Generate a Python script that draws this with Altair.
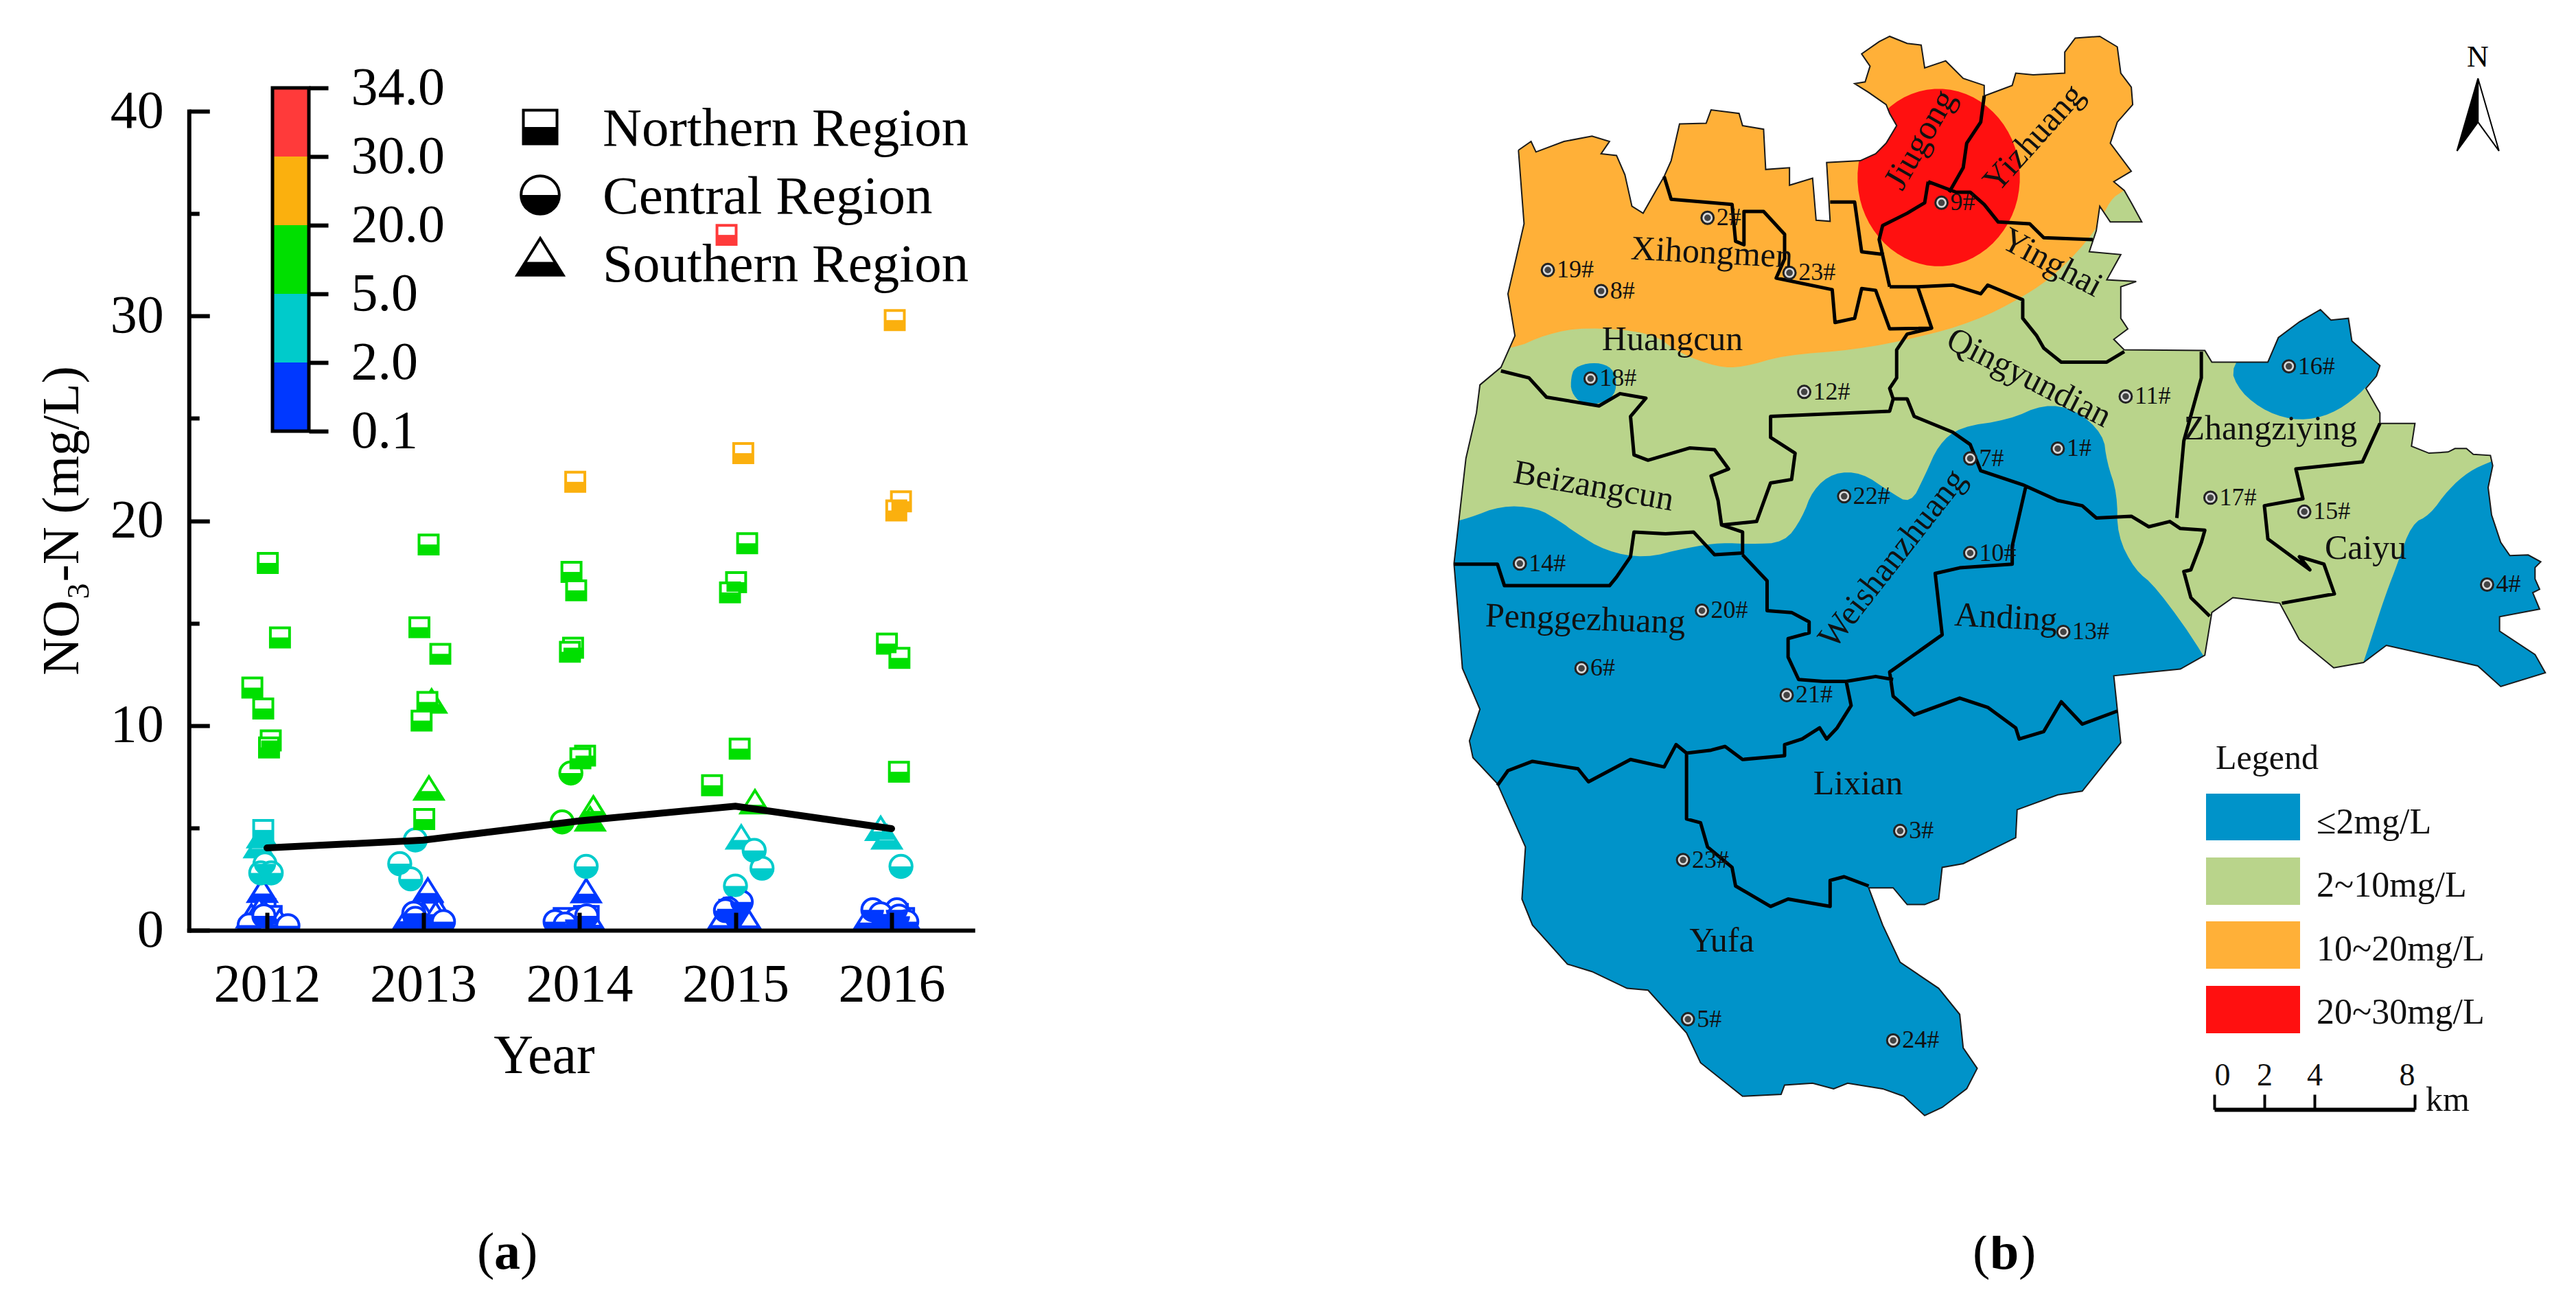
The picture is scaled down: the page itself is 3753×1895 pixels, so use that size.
import altair as alt
import pandas as pd

FONT = "Liberation Serif"
W, H = 3737, 1879

# ---------- panel (a) values: year + horizontal jitter, NO3-N (mg/L) ----------
sq_x = [2011.906, 2011.976, 2012.024, 2012.013, 2011.976, 2012.005, 2012.083, 2011.99, 2012.03,
        2013.035, 2012.976, 2013.11, 2013.027, 2012.99, 2013.007, 2013.0, 2012.97, 2013.06,
        2013.974, 2013.95, 2013.98, 2013.96, 2013.94, 2014.037, 2014.007, 2014.0, 2013.9, 2014.03, 2014.06,
        2014.943, 2015.05, 2015.075, 2015.004, 2014.965, 2015.027, 2014.85, 2015.0, 2014.96, 2014.99, 2015.02,
        2016.02, 2016.06, 2016.03, 2015.97, 2016.05, 2016.047, 2016.0, 2015.92, 2015.97, 2016.04, 2016.08]
sq_y = [11.85, 10.83, 9.27, 8.93, 4.9, 17.94, 14.3, 1.03, 0.7,
        18.84, 14.8, 13.5, 11.15, 10.24, 5.43, 0.55, 0.8, 0.9,
        21.9, 17.5, 16.6, 13.8, 13.6, 8.53, 8.4, 0.5, 0.6, 0.7, 0.7,
        33.96, 23.3, 18.9, 17.0, 16.5, 8.87, 7.08, 0.6, 1.0, 1.1, 1.0,
        29.8, 20.95, 20.5, 14.0, 13.3, 7.74, 0.6, 0.7, 0.8, 0.8, 0.6]
ci_x = [2011.987, 2011.96, 2012.027, 2011.886, 2012.134, 2011.98,
        2012.95, 2012.85, 2012.92, 2012.94, 2012.95, 2013.13,
        2013.946, 2013.89, 2014.044, 2013.845, 2013.98, 2014.047, 2013.91,
        2015.12, 2015.17, 2015.0, 2015.037, 2014.953, 2014.936,
        2016.06, 2015.88, 2016.034, 2015.93, 2016.047, 2016.097]
ci_y = [3.24, 2.8, 2.8, 0.25, 0.22, 0.7,
        4.41, 3.25, 2.51, 0.83, 0.58, 0.42,
        7.68, 5.29, 3.12, 0.42, 0.53, 0.7, 0.3,
        3.9, 3.03, 2.16, 1.38, 1.05, 0.96,
        3.12, 1.0, 1.0, 0.8, 0.69, 0.42]
tr_x = [2011.95, 2011.97, 2011.97, 2011.9, 2012.08, 2011.95, 2011.98,
        2013.054, 2013.037, 2013.03, 2013.1, 2012.9, 2013.0, 2013.08,
        2014.09, 2014.07, 2014.044, 2014.08,
        2015.125, 2015.037, 2015.087, 2014.9,
        2015.93, 2015.97, 2015.845, 2016.1]
tr_y = [4.13, 4.62, 1.95, 0.7, 0.44, 1.0, 0.9,
        11.2, 6.95, 1.97, 0.94, 0.6, 0.8, 0.8,
        5.98, 5.44, 1.94, 0.42,
        6.28, 4.56, 0.39, 0.4,
        4.98, 4.56, 0.53, 0.42]
mean_x = [2012, 2013, 2014, 2015, 2016]
mean_y = [4.02, 4.4, 5.34, 6.06, 4.96]

cb_labels = ["0.1", "2.0", "5.0", "20.0", "30.0", "34.0"]
cb_colors = ["#0038FF", "#00CBCB", "#00DF00", "#FBB00E", "#FF3A3A"]
cb_breaks = [2, 5, 20, 30]
region_names = ["Northern Region", "Central Region", "Southern Region"]

# ---------- panel (b) traces, in the units of three detail views of the map ----------
def z3(p): return [[2100 + a / 0.98, 30 + b / 1.96] for a, b in p]
def z4(p): return [[2100 + a / 0.98, 800 + b / 1.845] for a, b in p]
def z5(p): return [[3350 + a / 3, 650 + b / 3] for a, b in p]
def s(a, b): return a * 2.3935, b * 2.3935

def rounded(ring, n=2):
    """Corner-cut a closed ring so a hand-traced contour is drawn smooth."""
    pts = ring[:-1]
    for _ in range(n):
        out = []
        for i, (a, b) in enumerate(pts):
            c, d = pts[(i + 1) % len(pts)]
            out += [[0.75 * a + 0.25 * c, 0.75 * b + 0.25 * d], [0.25 * a + 0.75 * c, 0.25 * b + 0.75 * d]]
        pts = out
    return pts + [pts[0]]

outer = z3([(110,370),(128,345),(135,375),(175,345),(215,330),(240,345),(228,380),(250,385),(262,440),(272,530),
            (288,550),(305,490),(318,445),(328,400),(340,295),(378,293),(385,255),(425,265),(430,300),(460,310),
            (463,425),(497,420),(497,470),(530,450),(535,570),(555,573),(550,405),(598,400),(620,380),(635,350),
            (650,300),(640,265),(635,240),(610,205),(590,180),(605,175),(612,130),(600,95),(625,60),(640,45),
            (665,65),(685,70),(690,135),(720,115),(745,165),(775,185),(775,215),(815,185),(820,150),(845,155),
            (890,150),(890,90),(905,50),(940,45),(965,75),(970,150),(985,190),(987,240),(965,290),(955,350),
            (985,430),(960,460),(975,485),(985,520),(1000,575),(955,575),(940,530),(935,600),(925,660),(970,668),
            (950,740),(992,745),(970,760),(970,850),(980,880),(960,910),(975,940),(1090,942),(1100,975),(1180,975),
            (1195,905),(1225,860),(1255,825),(1270,855),(1295,850),(1300,915),(1340,985),(1335,1015),(1320,1050),
            (1340,1120),(1340,1150),(1390,1150),(1385,1215),(1410,1235)]) + \
        z5([(650,25),(680,10),(730,10),(760,35),(835,40),(845,85),(825,180),(840,300),(880,420),(920,478),(1000,475),
            (1055,505),(1030,530),(1030,580),(1050,625),(1020,640),(1050,712),(875,745),(875,808),(1030,910),
            (1075,990),(880,1050),(780,960),(380,870),(280,945),(150,968),(0,845)]) + \
        z4([(1197,145),(1130,130),(1100,170),(1090,285),(1055,322),(960,340),(965,430),(970,520),(915,650),(880,660),
            (822,700),(820,775),(745,845),(715,855),(710,940),(690,955),(665,955),(645,910),(610,910),(630,1010),
            (655,1110),(710,1180),(740,1250),(745,1340),(765,1395),(750,1450),(715,1500),(690,1522),(660,1470),
            (630,1450),(580,1435),(560,1450),(530,1435),(490,1440),(485,1465),(430,1470),(370,1380),(350,1300),
            (295,1185),(265,1180),(215,1135),(180,1115),(130,1010),(115,940),(120,800),(80,630),(45,560),(40,515),
            (55,430),(30,320),(25,200),(18,40)]) + \
        z3([(18,1550),(35,1250),(50,1120),(55,1040),(85,990),(105,900),(95,780),(118,580)])
outer.append(outer[0])

green = z3([(0,1440),(40,1420),(85,1385),(135,1390),(170,1430),(190,1460),(235,1515),(290,1535),(350,1505),(400,1490),
            (440,1495),(490,1490),(515,1420),(530,1340),(560,1290),(600,1290),(640,1345),(670,1380),(690,1300),
            (710,1210),(740,1160),(810,1140),(860,1095),(905,1110),(945,1180),(950,1260),(965,1350),(965,1470),(990,1568)]) + \
        z4([(1020,100),(1090,285),(1150,500),(1280,500)]) + \
        z5([(280,945),(330,790),(380,640),(430,510),(490,340),(570,300),(650,190),(740,110),(840,65),(1000,0)]) + \
        [[3740, 300], [3740, 0], [2100, 0]]
green.append(green[0])
orange = z3([(0,945),(100,940),(150,895),(205,875),(300,890),(340,950),(395,990),(430,990),(490,955),(590,940),(680,905),
             (760,860),(830,790),(880,720),(935,600),(955,510),(975,485),(1000,440),(1100,400),(1100,0),(0,0),(0,945)])
red = z3([(828,448),(819,547),(793,630),(755,686),(710,706),(665,686),(627,630),(601,547),(592,448),(601,349),(627,266),
          (665,210),(710,190),(755,210),(793,266),(819,349),(828,448)])
blue16 = z3([(1125,985),(1140,1060),(1180,1120),(1225,1143),(1270,1125),(1310,1070),(1340,1000),(1400,900),(1260,780),
             (1180,880),(1125,985)])
blue18 = z3([(185,1020),(190,990),(215,975),(240,985),(250,1020),(248,1070),(225,1095),(200,1095),(185,1060),(185,1020)])
mask = [[2090, 0], [2090, 1800], [3753, 1800], [3753, 0], [2090, 0]]

lines = [
    z3([(775,215),(770,290),(750,350),(745,420),(725,490)]),
    z3([(695,460),(735,490),(755,490),(775,525),(795,575),(840,580),(860,620),(930,625)]),
    z3([(695,460),(690,520),(665,550),(630,585),(625,625),(640,760)]),
    z3([(318,445),(328,510),(415,525),(420,630),(432,640),(432,545),(460,545),(490,610),(490,680),(478,735),(558,768),
        (562,862),(590,850),(600,765),(620,770),(640,880),(700,878),(680,760)]),
    z3([(555,518),(590,518),(600,660),(632,668)]),
    z3([(640,760),(680,760),(730,755),(770,780),(780,755),(830,797),(830,850),(850,900),(860,935),(885,975),(950,975),(975,945)]),
    z3([(700,878),(665,895),(650,940),(650,1020),(640,1050),(645,1080),(665,1080),(675,1130),(730,1175),(755,1210),(770,1285),
        (830,1325),(880,1370),(915,1385),(935,1420),(985,1415),(1010,1445),(1040,1430),(1055,1450),(1090,1455),(1085,1490),(1070,1568)]) +
    z4([(1060,60),(1070,130),(1097,180)]),
    z3([(1085,945),(1085,1020),(1060,1200),(1050,1420)]),
    z3([(645,1080),(640,1115),(470,1130),(470,1190),(505,1235),(500,1310),(470,1320),(450,1430),(400,1440),(430,1460),(430,1520),
        (390,1525),(360,1460),(320,1465),(275,1460),(270,1530)]) + z4([(270,20),(250,75),(240,98),(90,98),(80,40),(18,40)]),
    z4([(430,15),(465,85),(465,165),(500,170),(525,195),(525,225),(495,240),(495,290),(510,350),(545,355),(578,355),(620,342),(645,350)]),
    z4([(578,355),(585,420),(565,480),(550,510),(540,480),(515,510),(490,525),(490,555),(430,565),(405,530),(385,540),(350,548),
        (335,525),(318,585),(270,565),(210,625),(195,590),(130,570),(95,595),(80,635)]),
    z3([(85,1000),(125,1020),(150,1075),(225,1100),(255,1065),(292,1078),(270,1130),(275,1240),(295,1255),(355,1220),(390,1225),
        (410,1280),(385,1300),(395,1370),(400,1440)]),
    z3([(835,1325),(815,1500)]) + z4([(815,40),(740,50),(705,65),(715,230),(640,330),(645,395),(675,445),(740,400),(780,425),(820,480),
        (825,510),(860,490),(885,410),(915,470),(965,435)]),
    z4([(350,548),(350,725),(370,735),(380,800),(415,855),(420,905),(470,960),(495,940),(555,960),(555,890),(575,880),(610,905)]),
    z3([(1340,1150),(1315,1260),(1220,1280),(1230,1365),(1175,1385),(1180,1480),(1240,1568)]) +
    z4([(1225,20),(1260,40),(1275,120),(1200,145)]),
]

north_left = z3([(1480,165),(1450,372),(1480,290),(1480,165)])
north_right = z3([(1480,165),(1510,372),(1480,290),(1480,165)])

st3 = [("19#",152,712),("8#",228,772),("2#",380,563),("23#",497,720),("9#",714,520),("18#",213,1022),("12#",518,1060),
       ("11#",977,1073),("16#",1210,987),("1#",880,1222),("7#",755,1250),("22#",575,1358),("17#",1098,1362),("15#",1232,1402),
       ("14#",112,1550),("10#",755,1520)]
st4 = [("20#",372,165),("13#",888,222),("6#",200,320),("21#",493,392),("3#",655,757),("23#",345,835),("5#",352,1263),
       ("24#",645,1320),("4#",1493,95)]
st_rows = [{"n": n, "x": z3([(a, b)])[0][0], "y": z3([(a, b)])[0][1]} for n, a, b in st3] + \
          [{"n": n, "x": z4([(a, b)])[0][0], "y": z4([(a, b)])[0][1]} for n, a, b in st4]

names = [("Jiugong",1169,85,300),("Yizhuang",1238,84,312),("Yinghai",1249,160,28),("Xihongmen",1042,154,3),
         ("Huangcun",1018,207,0),("Qingyundian",1235,230,27),("Beizangcun",970,296,10),("Zhangziying",1382,261,0),
         ("Caiyu",1440,334,0),("Weishanzhuang",1152,340,308),("Penggezhuang",965,377,2),("Anding",1221,376,3),
         ("Lixian",1131,477,0),("Yufa",1048,573,0)]
name_rows = [{"n": n, "x": s(a, b)[0], "y": s(a, b)[1], "r": r} for n, a, b, r in names]

classes = ["≤2mg/L", "2~10mg/L", "10~20mg/L", "20~30mg/L"]
class_colors = ["#0093C9", "#B9D48B", "#FFB038", "#FF1010"]
class_y0 = [1156, 1249, 1342, 1436]
class_y1 = [1224, 1318, 1411, 1505]
class_text_y = [1198, 1290, 1383, 1475]

# ---------- scales ----------
X0 = 389 - 8 - 113.75
YEAR = alt.Scale(domain=[2011.5, 2016.52], range=[X0, X0 + 5.02 * 227.5], zero=False, nice=False)
VAL = alt.Scale(domain=[0, 40], range=[1355 - 8, 162 - 8], zero=False, nice=False)
THR = alt.Scale(type="threshold", domain=cb_breaks, range=cb_colors)
PX = alt.Scale(domain=[0, 3753], range=[-8, 3745], zero=False, nice=False)
PY = alt.Scale(domain=[0, 1895], range=[-8, 1887], zero=False, nice=False)
CBY = alt.Scale(domain=[0, 5], range=[628 - 8, 128 - 8], zero=False, nice=False)
CBX = alt.Scale(domain=[0, 1], range=[397 - 8, 450 - 8], zero=False, nice=False)
KM = alt.Scale(domain=[0, 8], range=[3226 - 8, 3518 - 8], zero=False, nice=False)
PROJ = dict(type="identity", scale=1, translate=[-8, -8])

layers = []

# ---------- half-filled symbols ----------
SQ, SQ_H = "M-1,-1L1,-1L1,1L-1,1Z", "M-1,0L1,0L1,1L-1,1Z"
CI, CI_H = "M-1,0A1,1 0 0 1 1,0A1,1 0 0 1 -1,0Z", "M-1,0A1,1 0 0 0 1,0Z"
TR, TR_H = "M0,-0.8L1,0.8L-1,0.8Z", "M-0.64,0.22L0.64,0.22L1,0.8L-1,0.8Z"

def sym(xs, ys, path, half, size):
    df = pd.DataFrame({"x": xs, "y": ys})
    base = alt.Chart(df)
    e = dict(x=alt.X("x:Q", scale=YEAR, axis=None), y=alt.Y("y:Q", scale=VAL, axis=None))
    return [
        base.mark_point(shape=path, filled=True, fill="white", opacity=1, strokeWidth=4, size=size).encode(
            stroke=alt.Stroke("y:Q", scale=THR, legend=None), **e),
        base.mark_point(shape=half, filled=True, opacity=1, strokeWidth=0, size=size).encode(
            fill=alt.Fill("y:Q", scale=THR, legend=None), **e),
    ]

# low squares sit underneath the crowded circles and triangles at the axis
low_sq = [(a, b) for a, b in zip(sq_x, sq_y) if b < 2]
high_sq = [(a, b) for a, b in zip(sq_x, sq_y) if b >= 2]
layers += sym([a for a, _ in low_sq], [b for _, b in low_sq], SQ, SQ_H, 780)
layers += sym(tr_x, tr_y, TR, TR_H, 1700)
layers += sym(ci_x, ci_y, CI, CI_H, 1050)
layers += sym([a for a, _ in high_sq], [b for _, b in high_sq], SQ, SQ_H, 780)

# white band that cuts the symbols off at the x axis
layers.append(alt.Chart(pd.DataFrame({"a": [262], "b": [1480], "c": [1357], "d": [1398]})).mark_rect(fill="white").encode(
    x=alt.X("a:Q", scale=PX, axis=None), x2="b:Q", y=alt.Y("c:Q", scale=PY, axis=None), y2="d:Q"))

# mean line
layers.append(alt.Chart(pd.DataFrame({"x": mean_x, "y": mean_y})).mark_line(color="black", strokeWidth=10, strokeCap="round").encode(
    x=alt.X("x:Q", scale=YEAR, axis=None), y=alt.Y("y:Q", scale=VAL, axis=None)))

# ---------- axes ----------
anchor = pd.DataFrame({"x": [2012], "y": [0]})
layers.append(alt.Chart(anchor).mark_point(opacity=0).encode(
    x=alt.X("x:Q", scale=YEAR, axis=alt.Axis(orient="bottom", offset=-(H - 1347), values=mean_x, format="d", domain=False, ticks=False,
            tickSize=0, grid=False, labelFont=FONT, labelFontSize=78, labelColor="black", labelPadding=40, title=None)),
    y=alt.Y("y:Q", scale=VAL, axis=alt.Axis(orient="left", offset=-X0, values=[0, 10, 20, 30, 40], domain=False, ticks=False,
            tickSize=0, grid=False, labelFont=FONT, labelFontSize=78, labelColor="black", labelPadding=37,
            title="NO₃-N (mg/L)", titleFont=FONT, titleFontSize=76, titleFontWeight="normal", titleColor="black", titleX=-146, titleY=750))))
layers.append(alt.Chart(anchor).mark_point(opacity=0).encode(
    x=alt.X("x:Q", scale=YEAR, axis=alt.Axis(orient="top", offset=-1347, values=mean_x, labels=False, tickSize=26, tickWidth=6, tickColor="black",
            domain=True, domainWidth=6, domainColor="black", domainCap="square", grid=False, title=None, zindex=1)),
    y=alt.Y("y:Q", scale=VAL, axis=alt.Axis(orient="right", offset=-(W - X0), values=[0, 10, 20, 30, 40], labels=False, tickSize=30, tickWidth=6,
            tickColor="black", domain=True, domainWidth=6, domainColor="black", domainCap="square", grid=False, title=None, zindex=1))))
layers.append(alt.Chart(anchor).mark_point(opacity=0).encode(
    x=alt.value(0),
    y=alt.Y("y:Q", scale=VAL, axis=alt.Axis(orient="right", offset=-(W - X0), values=[5, 15, 25, 35], labels=False, tickSize=15, tickWidth=6,
            tickColor="black", domain=False, grid=False, title=None, zindex=1))))

# ---------- colour bar ----------
cb = pd.DataFrame({"lo": [0, 1, 2, 3, 4], "hi": [1, 2, 3, 4, 5], "c": cb_colors, "a": [0] * 5, "b": [1] * 5})
layers.append(alt.Chart(cb).mark_rect().encode(
    x=alt.X("a:Q", scale=CBX, axis=None), x2="b:Q", y=alt.Y("lo:Q", scale=CBY, axis=None), y2="hi:Q",
    color=alt.Color("c:N", scale=None)))
layers.append(alt.Chart(pd.DataFrame({"a": [0], "b": [1], "lo": [0], "hi": [5]})).mark_rect(fill="transparent", stroke="black", strokeWidth=5).encode(
    x=alt.X("a:Q", scale=CBX, axis=None), x2="b:Q", y=alt.Y("lo:Q", scale=CBY, axis=None), y2="hi:Q"))
layers.append(alt.Chart(pd.DataFrame({"y": [0]})).mark_point(opacity=0).encode(
    x=alt.value(0),
    y=alt.Y("y:Q", scale=CBY, axis=alt.Axis(orient="right", offset=-(W - 442), values=[0, 1, 2, 3, 4, 5], domain=False, tickSize=28, tickWidth=6,
            tickColor="black", grid=False, title=None, labelFont=FONT, labelFontSize=78, labelColor="black", labelPadding=33,
            labelExpr="['0.1','2.0','5.0','20.0','30.0','34.0'][datum.value]", zindex=1))))

# ---------- symbol legend ----------
leg = [("Northern", 787, 185, SQ, SQ_H, 2400), ("Central", 787, 284, CI, CI_H, 3100), ("Southern", 787, 374, TR, TR_H, 4500)]
for _, lx, ly, p, h, sz in leg:
    d = alt.Chart(pd.DataFrame({"x": [lx], "y": [ly]}))
    e = dict(x=alt.X("x:Q", scale=PX, axis=None), y=alt.Y("y:Q", scale=PY, axis=None))
    layers.append(d.mark_point(shape=p, filled=True, fill="white", stroke="black", strokeWidth=4, opacity=1, size=sz).encode(**e))
    layers.append(d.mark_point(shape=h, filled=True, fill="black", strokeWidth=0, opacity=1, size=sz).encode(**e))
layers.append(alt.Chart(pd.DataFrame({"t": region_names, "x": [878] * 3, "y": [212, 311, 410]})).mark_text(
    font=FONT, fontSize=79, align="left", baseline="alphabetic", color="black").encode(
    x=alt.X("x:Q", scale=PX, axis=None), y=alt.Y("y:Q", scale=PY, axis=None), text="t:N"))

# Year and panel tags
layers.append(alt.Chart(pd.DataFrame({"t": ["Year"], "x": [793], "y": [1563]})).mark_text(
    font=FONT, fontSize=80, align="center", baseline="alphabetic", color="black").encode(
    x=alt.X("x:Q", scale=PX, axis=None), y=alt.Y("y:Q", scale=PY, axis=None), text="t:N"))
layers.append(alt.Chart(pd.DataFrame({"t": ["(", ")", "(", ")"], "x": [695, 758, 2874, 2941], "y": [1848] * 4})).mark_text(
    font=FONT, fontSize=76, align="left", baseline="alphabetic", color="black").encode(
    x=alt.X("x:Q", scale=PX, axis=None), y=alt.Y("y:Q", scale=PY, axis=None), text="t:N"))
layers.append(alt.Chart(pd.DataFrame({"t": ["a", "b"], "x": [720, 2899], "y": [1848] * 2})).mark_text(
    font=FONT, fontSize=76, fontWeight="bold", align="left", baseline="alphabetic", color="black").encode(
    x=alt.X("x:Q", scale=PX, axis=None), y=alt.Y("y:Q", scale=PY, axis=None), text="t:N"))

# ---------- map ----------
def feat(rings, cls):
    return {"type": "Feature", "properties": {"c": cls}, "geometry": {"type": "Polygon", "coordinates": rings}}

zones = [feat([outer], class_colors[0]), feat([rounded(green)], class_colors[1]), feat([rounded(blue16)], class_colors[0]),
         feat([rounded(blue18)], class_colors[0]), feat([rounded(orange)], class_colors[2]), feat([rounded(red)], class_colors[3]),
         feat([mask, outer], "white")]
layers.append(alt.Chart(alt.InlineData(values={"type": "FeatureCollection", "features": zones},
                                       format=alt.DataFormat(type="json", property="features"))).mark_geoshape(strokeWidth=0).encode(
    color=alt.Color("properties.c:N", scale=None)).project(**PROJ))
layers.append(alt.Chart(alt.InlineData(values={"type": "FeatureCollection", "features": [
    {"type": "Feature", "properties": {}, "geometry": {"type": "LineString", "coordinates": outer}}]},
    format=alt.DataFormat(type="json", property="features"))).mark_geoshape(filled=False, stroke="#1a1a1a", strokeWidth=2).project(**PROJ))
layers.append(alt.Chart(alt.InlineData(values={"type": "FeatureCollection", "features": [
    {"type": "Feature", "properties": {}, "geometry": {"type": "MultiLineString", "coordinates": lines}}]},
    format=alt.DataFormat(type="json", property="features"))).mark_geoshape(filled=False, stroke="black", strokeWidth=5, strokeJoin="round").project(**PROJ))

st = alt.Chart(pd.DataFrame(st_rows))
se = dict(x=alt.X("x:Q", scale=PX, axis=None), y=alt.Y("y:Q", scale=PY, axis=None))
layers.append(st.mark_point(shape="circle", filled=True, fill="#d8d8d8", stroke="#222222", strokeWidth=3, opacity=1, size=320).encode(**se))
layers.append(st.mark_point(shape="circle", filled=True, fill="#444444", strokeWidth=0, opacity=1, size=90).encode(**se))
layers.append(st.mark_text(font=FONT, fontSize=36, align="left", baseline="middle", dx=13, color="#111111").encode(text="n:N", **se))
layers.append(alt.Chart(pd.DataFrame(name_rows)).mark_text(font=FONT, fontSize=50, align="center", baseline="middle", color="#111111").encode(
    x=alt.X("x:Q", scale=PX, axis=None), y=alt.Y("y:Q", scale=PY, axis=None), text="n:N", angle=alt.Angle("r:Q", scale=None)))

# north arrow
layers.append(alt.Chart(alt.InlineData(values={"type": "FeatureCollection", "features": [
    feat([north_left], "black"), feat([north_right], "white")]},
    format=alt.DataFormat(type="json", property="features"))).mark_geoshape(stroke="black", strokeWidth=2).encode(
    color=alt.Color("properties.c:N", scale=None)).project(**PROJ))
layers.append(alt.Chart(pd.DataFrame({"t": ["N"], "x": [3610], "y": [84]})).mark_text(
    font=FONT, fontSize=44, align="center", baseline="middle", color="black").encode(
    x=alt.X("x:Q", scale=PX, axis=None), y=alt.Y("y:Q", scale=PY, axis=None), text="t:N"))

# map legend
ml = pd.DataFrame({"c": class_colors, "a": [3214] * 4, "b": [3351] * 4, "y0": class_y0, "y1": class_y1,
                   "t": classes, "tx": [3375] * 4, "ty": class_text_y})
layers.append(alt.Chart(ml).mark_rect().encode(
    x=alt.X("a:Q", scale=PX, axis=None), x2="b:Q", y=alt.Y("y0:Q", scale=PY, axis=None), y2="y1:Q", color=alt.Color("c:N", scale=None)))
layers.append(alt.Chart(ml).mark_text(font=FONT, fontSize=52, align="left", baseline="middle", color="#111111").encode(
    x=alt.X("tx:Q", scale=PX, axis=None), y=alt.Y("ty:Q", scale=PY, axis=None), text="t:N"))
layers.append(alt.Chart(pd.DataFrame({"t": ["Legend", "km"], "x": [3228, 3534], "y": [1120, 1618]})).mark_text(
    font=FONT, fontSize=50, align="left", baseline="alphabetic", color="#111111").encode(
    x=alt.X("x:Q", scale=PX, axis=None), y=alt.Y("y:Q", scale=PY, axis=None), text="t:N"))

# scale bar
layers.append(alt.Chart(pd.DataFrame({"x": [0]})).mark_point(opacity=0).encode(
    x=alt.X("x:Q", scale=KM, axis=alt.Axis(orient="top", offset=-(1616 - 8), values=[0, 2, 4, 8], format="d", tickSize=22, tickWidth=4,
            tickColor="black", domain=True, domainWidth=6, domainColor="black", grid=False, title=None, labelFont=FONT, labelFontSize=46,
            labelColor="#111111", labelPadding=4, zindex=1)),
    y=alt.value(0)))

chart = alt.layer(*layers).resolve_scale(x="independent", y="independent", color="independent", fill="independent", stroke="independent").properties(
    width=W, height=H, padding=0, background="white",
    autosize=alt.AutoSizeParams(type="none", contains="padding")).configure_view(stroke=None)

chart.save("out.html", embed_options={"renderer": "svg", "actions": False})
